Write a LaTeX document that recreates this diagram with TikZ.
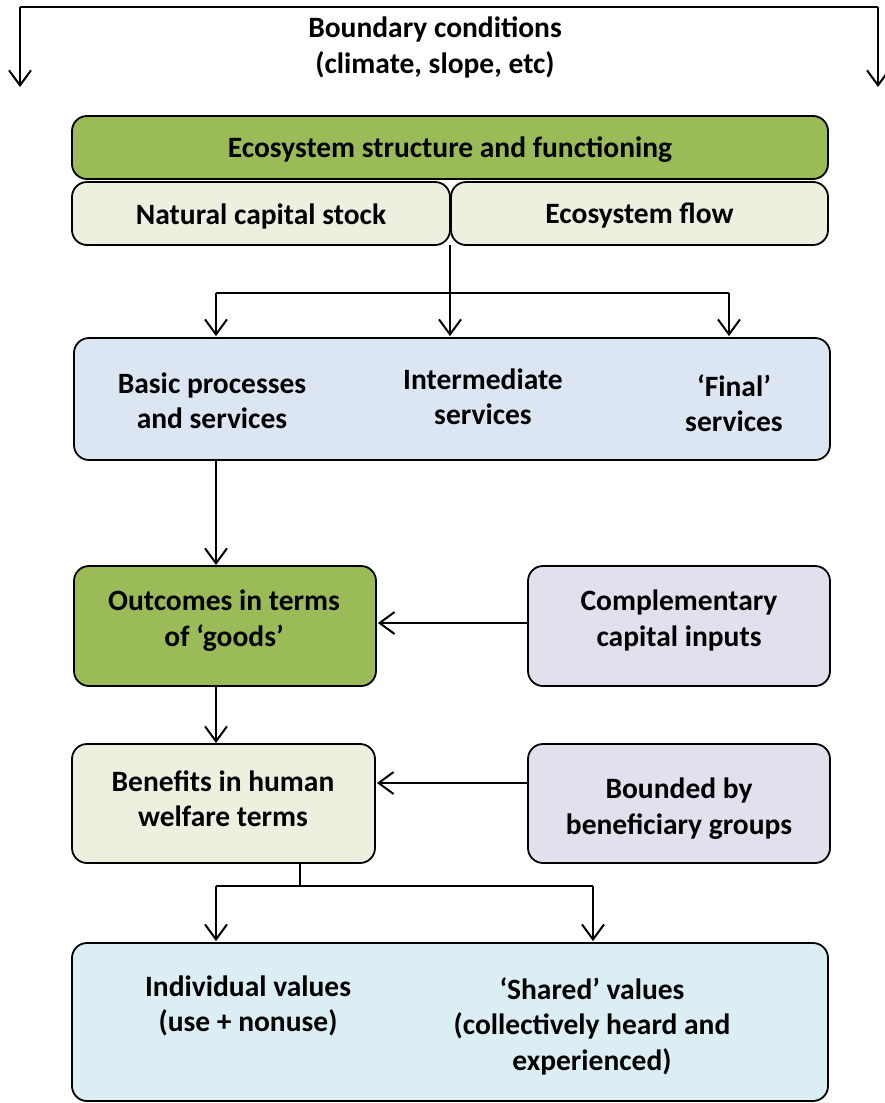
\documentclass[tikz,border=0pt]{standalone}
\usepackage{fontspec}
\setmainfont{Carlito}
\usetikzlibrary{arrows.meta}
\definecolor{cgreen}{HTML}{9BBB59}
\definecolor{clgreen}{HTML}{EBF1DE}
\definecolor{cblue}{HTML}{DCE6F2}
\definecolor{cpurple}{HTML}{E4DFEC}
\definecolor{caqua}{HTML}{DAEEF3}
\tikzset{
  box/.style={draw=black, line width=1.8pt, rounded corners=15pt, inner sep=0pt},
  txt/.style={align=center, font=\fontsize{29.5}{35.5}\selectfont\bfseries, inner sep=0pt, yshift=-2.5pt},
  conn/.style={line width=2pt, draw=black},
  arr/.style={conn, -{Straight Barb[length=15pt, width=22pt, line width=2pt]}}
}
\begin{document}
\begin{tikzpicture}[x=1pt,y=-1pt]
\useasboundingbox (0,0) rectangle (884,1103);
% boundary conditions
\coordinate (tl) at (20,7);
\coordinate (tr) at (878,7);
\coordinate (bl) at (20,87);
\coordinate (br) at (878,87);
\draw[arr] (tl) -- (bl);
\draw[arr] (tr) -- (br);
\draw[conn] (tl) -- (tr);
\node[txt] (bc) at (435,45) {Boundary conditions\\(climate, slope, etc)};
% ecosystem
\node[box, fill=cgreen, minimum width=756pt, minimum height=63pt] (eco) at (450,147.5) {};
\node[txt] (ecot) at (450,147.5) {Ecosystem structure and functioning};
\node[box, fill=clgreen, minimum width=378pt, minimum height=63pt] (ncs) at (261,213.5) {};
\node[txt] (ncst) at (261,213.5) {Natural capital stock};
\node[box, fill=clgreen, minimum width=377pt, minimum height=63pt] (flow) at (639.5,213.5) {};
\node[txt] (flowt) at (639.5,213.5) {Ecosystem flow};
% services
\node[box, fill=cblue, minimum width=756pt, minimum height=122pt] (serv) at (452,399) {};
\node[txt] (s1) at (212,398.5) {Basic processes\\and services};
\node[txt] (s2) at (483,394.5) {Intermediate\\services};
\node[txt] (s3) at (734,400.5) {`Final'\\services};
\coordinate (split) at (450,245);
\coordinate (hl) at (216,293);
\coordinate (hr) at (729,293);
\draw[arr, shorten >=1pt] (split) -- (split |- serv.north);
\draw[conn] (hl) -- (hr);
\draw[arr, shorten >=1pt] (hl) -- (hl |- serv.north);
\draw[arr, shorten >=1pt] (hr) -- (hr |- serv.north);
% outcomes
\node[box, fill=cgreen, minimum width=302pt, minimum height=120pt] (out) at (225,626) {};
\node[txt] (outt) at (224,618) {Outcomes in terms\\of `goods'};
\node[box, fill=cpurple, minimum width=302pt, minimum height=120pt] (comp) at (679,626) {};
\node[txt] (compt) at (679,618) {Complementary\\capital inputs};
\draw[arr, shorten >=1pt] (216,460) -- (216,566);
\draw[arr, shorten >=1pt] (comp.west |- 0,623) -- (out.east |- 0,623);
% benefits
\node[box, fill=clgreen, minimum width=303pt, minimum height=119pt] (ben) at (223.5,803.5) {};
\node[txt] (bent) at (223,796) {Benefits in human\\welfare terms};
\node[box, fill=cpurple, minimum width=302pt, minimum height=119pt] (bnd) at (679,803.5) {};
\node[txt] (bndt) at (679,806) {Bounded by\\beneficiary groups};
\draw[arr, shorten >=1pt] (216,686) -- (216,744);
\draw[arr, shorten >=1pt] (bnd.west |- 0,783) -- (ben.east |- 0,783);
% values
\node[box, fill=caqua, minimum width=756pt, minimum height=158pt] (val) at (450,1022) {};
\node[txt] (v1) at (248,1003.5) {Individual values\\(use + nonuse)};
\node[txt] (v2) at (592,1023.5) {`Shared' values\\(collectively heard and\\experienced)};
\coordinate (bs) at (300,886);
\coordinate (bl2) at (216,886);
\coordinate (br2) at (593,886);
\draw[conn] (ben.south -| bs) -- (bs);
\draw[conn] (bl2) -- (br2);
\draw[arr, shorten >=1pt] (bl2) -- (bl2 |- val.north);
\draw[arr, shorten >=1pt] (br2) -- (br2 |- val.north);
\end{tikzpicture}
\end{document}
